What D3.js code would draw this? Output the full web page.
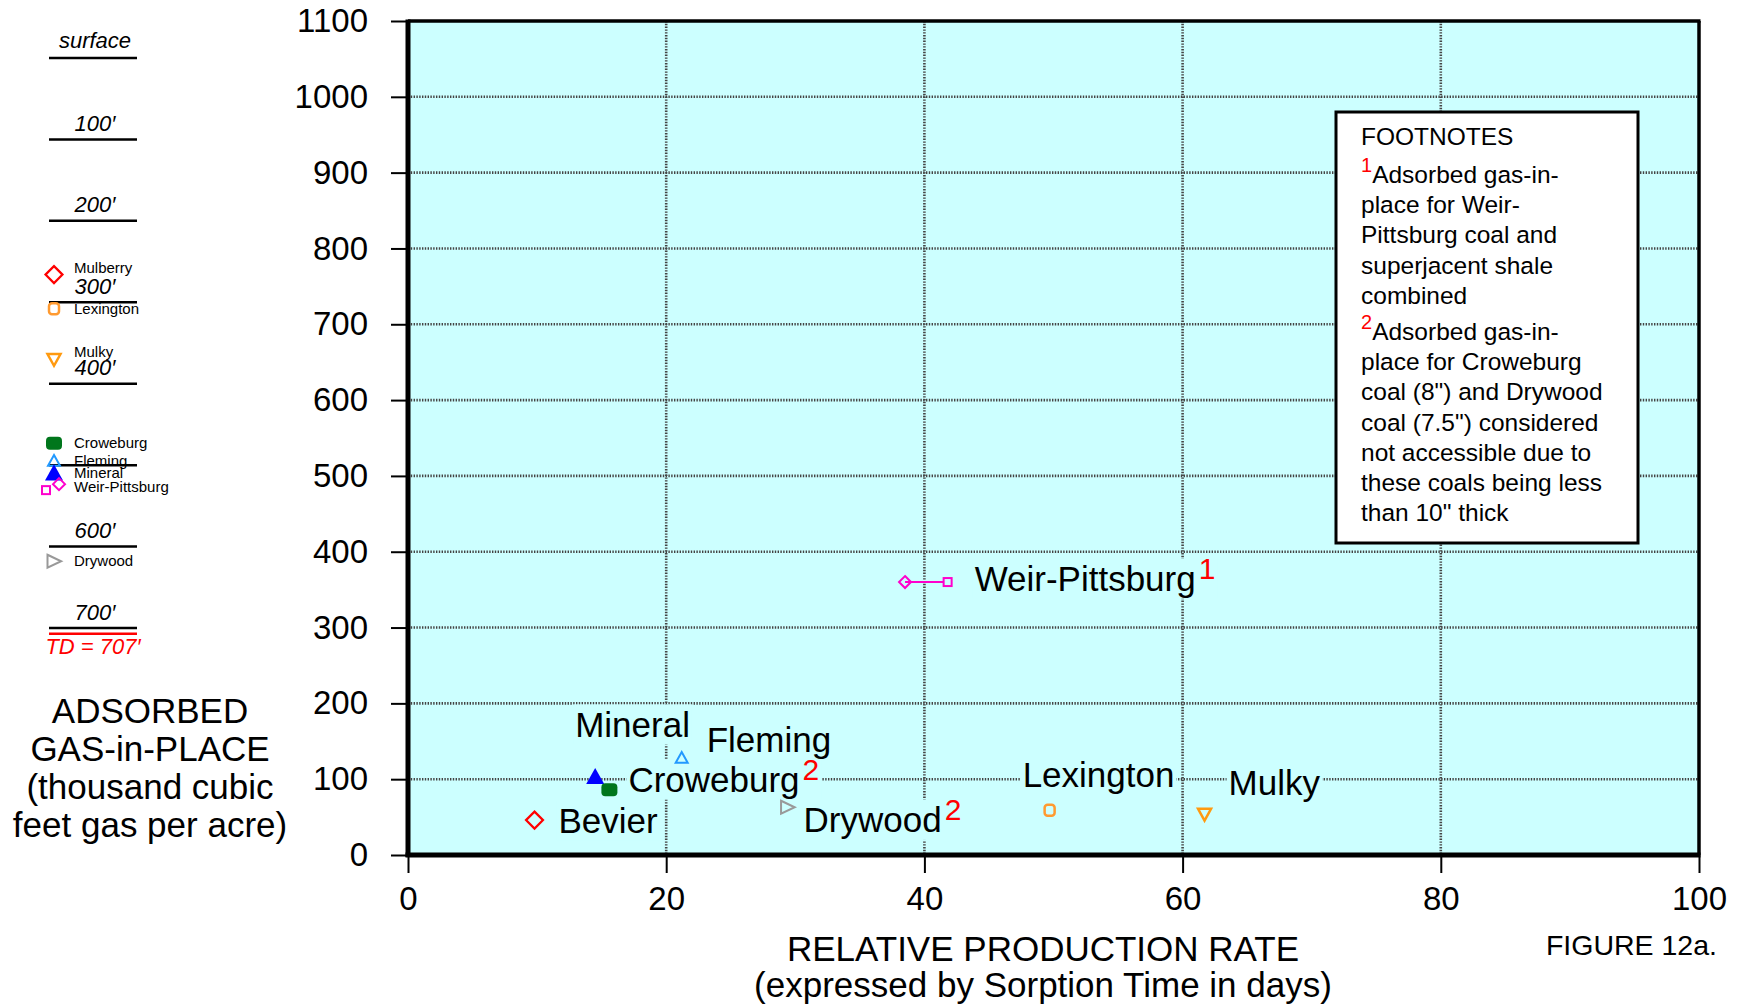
<!DOCTYPE html>
<html>
<head>
<meta charset="utf-8">
<script src="https://cdn.jsdelivr.net/npm/d3@7"></script>
<style>
  body { margin: 0; background: #fff; }
  svg { display: block; font-family: "Liberation Sans", Arial, Helvetica, sans-serif; }
</style>
</head>
<body>
<svg id="chart" width="1741" height="1008"></svg>
<script>
// Coal beds: sorption time (days) against adsorbed gas-in-place (thousand cf / acre)
const coals        = ["Bevier", "Mineral", "Croweburg", "Fleming", "Drywood", "Lexington", "Mulky", "Weir-Pittsburg"];
const sorptionDays = [9.8, 14.5, 15.6, 21.2, 29.4, 49.7, 61.7, 38.5];
const gasInPlace   = [46, 103, 86, 128, 63, 59, 54, 360];
const footnoteRef  = ["", "", "2", "", "2", "", "", "1"];

// Weir-Pittsburg is shown as a range (coal alone .. coal + superjacent shale)
const weirDaysRange = [38.5, 41.8];

// Axis ticks
const xTicks = [0, 20, 40, 60, 80, 100];
const yTicks = [0, 100, 200, 300, 400, 500, 600, 700, 800, 900, 1000, 1100];

// Well column: depth marks (ft) and coal depths (ft)
const depthMarks  = [0, 100, 200, 300, 400, 500, 600, 700];
const depthLabels = ["surface", "100\u2032", "200\u2032", "300\u2032", "400\u2032", "", "600\u2032", "700\u2032"];
const totalDepth  = 707;
const columnCoals = ["Mulberry", "Lexington", "Mulky", "Croweburg", "Fleming", "Mineral", "Weir-Pittsburg", "Drywood"];
const columnDepth = [266, 308, 370, 473, 495, 510, 527, 618];

// Footnote text
const footnoteTitle = "FOOTNOTES";
const footnote1 = ["Adsorbed gas-in-", "place for Weir-", "Pittsburg coal and", "superjacent shale", "combined"];
const footnote2 = ["Adsorbed gas-in-", "place for Croweburg", "coal (8\") and Drywood", "coal (7.5\") considered",
                   "not accessible due to", "these coals being less", "than 10\" thick"];

// ---------- styling ----------
const BG = "#ccffff";
const marker = {
  "Bevier":         { shape: "diamond",  r: 8.5, stroke: "#ff0000", fill: "none", sw: 2.2 },
  "Mulberry":       { shape: "diamond",  r: 8.5, stroke: "#ff0000", fill: "none", sw: 2.2 },
  "Mineral":        { shape: "triUp",    r: 9,   stroke: "none",    fill: "#0000ff", sw: 0 },
  "Croweburg":      { shape: "roundSq",  r: 7,   stroke: "none",    fill: "#00761c", sw: 0 },
  "Fleming":        { shape: "triUpS",   r: 6,   stroke: "#2299ff", fill: "none", sw: 2 },
  "Drywood":        { shape: "triRight", r: 6.5, stroke: "#999999", fill: "none", sw: 2 },
  "Lexington":      { shape: "roundO",   r: 5.5, stroke: "#ff9a30", fill: "none", sw: 2.5 },
  "Mulky":          { shape: "triDown",  r: 6.5, stroke: "#ff9a10", fill: "none", sw: 2.5 },
  "Weir-Pittsburg": { shape: "diamond",  r: 6,   stroke: "#ff00cc", fill: "none", sw: 2 }
};
// label placement relative to the marker (px)
const labelOffset = {
  "Bevier": [24, 13], "Mineral": [-20, -40], "Croweburg": [19, 2], "Fleming": [25, -6],
  "Drywood": [16, 25], "Lexington": [-27, -23], "Mulky": [24, -19], "Weir-Pittsburg": [27, 9]
};
// baseline shift of the column names relative to their symbol (px)
const columnTextShift = { "Mulberry": -2, "Mulky": -2 };

function shapePath(shape, r) {
  switch (shape) {
    case "diamond":  return `M0,${-r}L${r},0L0,${r}L${-r},0Z`;
    case "triUp":    return `M0,${-r}L${r},${r * 0.8}L${-r},${r * 0.8}Z`;
    case "triUpS":   return `M0,${-r}L${r},${r * 0.8}L${-r},${r * 0.8}Z`;
    case "triDown":  return `M${-r},${-r * 0.8}L${r},${-r * 0.8}L0,${r}Z`;
    case "triRight": return `M${-r},${-r}L${r * 1.1},0L${-r},${r}Z`;
    default: return null;
  }
}

function drawMarker(g, name, cx, cy) {
  const m = marker[name];
  if (m.shape === "roundSq") {
    g.append("rect").attr("x", cx - m.r - 1).attr("y", cy - m.r + 0.5)
      .attr("width", 2 * m.r + 2).attr("height", 2 * m.r - 1).attr("rx", 4)
      .attr("fill", m.fill);
  } else if (m.shape === "roundO") {
    g.append("rect").attr("x", cx - m.r + 0.5).attr("y", cy - m.r)
      .attr("width", 2 * m.r - 1).attr("height", 2 * m.r).attr("rx", 3)
      .attr("fill", "none").attr("stroke", m.stroke).attr("stroke-width", m.sw);
  } else {
    g.append("path").attr("d", shapePath(m.shape, m.r))
      .attr("transform", `translate(${cx},${cy})`)
      .attr("fill", m.fill).attr("stroke", m.stroke).attr("stroke-width", m.sw)
      .attr("stroke-linejoin", "miter");
  }
}

const svg = d3.select("#chart");

// ---------- main plot ----------
const plot = { left: 408, right: 1699, top: 21, bottom: 855 };
const x = d3.scaleLinear().domain([0, 100]).range([plot.left, plot.right]);
const y = d3.scaleLinear().domain([0, 1100]).range([plot.bottom, plot.top]);

svg.append("rect")
  .attr("x", plot.left).attr("y", plot.top)
  .attr("width", plot.right - plot.left).attr("height", plot.bottom - plot.top)
  .attr("fill", BG);

// dotted grid
const grid = svg.append("g").attr("stroke", "#444").attr("stroke-width", 2.6)
  .attr("stroke-dasharray", "1.4,1.4");
grid.selectAll("line.v").data(xTicks.filter(d => d > 0 && d < 100)).join("line")
  .attr("x1", d => x(d)).attr("x2", d => x(d)).attr("y1", plot.top).attr("y2", plot.bottom);
grid.selectAll("line.h").data(yTicks.filter(d => d > 0 && d < 1100)).join("line")
  .attr("y1", d => y(d)).attr("y2", d => y(d)).attr("x1", plot.left).attr("x2", plot.right);

// axes
const yAxis = svg.append("g").attr("transform", `translate(${plot.left},0)`)
  .call(d3.axisLeft(y).tickValues(yTicks).tickSize(17).tickPadding(23).tickFormat(d3.format("d")));
const xAxis = svg.append("g").attr("transform", `translate(0,${plot.bottom})`)
  .call(d3.axisBottom(x).tickValues(xTicks).tickSize(18).tickPadding(14).tickFormat(d3.format("d")));
[yAxis, xAxis].forEach(a => {
  a.select(".domain").remove();
  a.selectAll(".tick line").attr("stroke", "#000").attr("stroke-width", 2);
  a.selectAll(".tick text").attr("font-size", 33).attr("fill", "#000")
    .attr("font-family", "'Liberation Sans', Arial, sans-serif");
});

// frame
const frame = svg.append("g").attr("stroke", "#000");
frame.append("line").attr("x1", plot.left).attr("x2", plot.right + 1.5).attr("y1", plot.top).attr("y2", plot.top).attr("stroke-width", 3.5);
frame.append("line").attr("x1", plot.right).attr("x2", plot.right).attr("y1", plot.top).attr("y2", plot.bottom).attr("stroke-width", 3.5);
frame.append("line").attr("x1", plot.left).attr("x2", plot.left).attr("y1", plot.top - 1.5).attr("y2", plot.bottom + 2).attr("stroke-width", 5);
frame.append("line").attr("x1", plot.left - 2.5).attr("x2", plot.right + 1.5).attr("y1", plot.bottom).attr("y2", plot.bottom).attr("stroke-width", 5);

// data labels (background drawn first, so gridlines are masked)
const points = coals.map((c, i) => ({
  name: c, days: sorptionDays[i], gas: gasInPlace[i], note: footnoteRef[i]
}));
const labelBgLayer = svg.append("g");
const markLayer = svg.append("g");
const labelLayer = svg.append("g");
const LABEL_SIZE = 35;

points.forEach(p => {
  const px = x(p.name === "Weir-Pittsburg" ? weirDaysRange[1] : p.days);
  const py = y(p.gas);
  const [dx, dy] = labelOffset[p.name];
  const t = labelLayer.append("text")
    .attr("x", px + dx).attr("y", py + dy)
    .attr("font-size", LABEL_SIZE).attr("fill", "#000");
  t.append("tspan").text(p.name);
  if (p.note) {
    t.append("tspan").attr("dx", 3).attr("dy", -12).attr("font-size", 30)
      .attr("fill", "#ff0000").text(p.note);
  }
  // mask box spans the main text line; the superscript only widens it
  const bb = t.node().getBBox();
  const top = py + dy - LABEL_SIZE * 0.93;
  const bottom = py + dy + LABEL_SIZE * 0.22;
  labelBgLayer.append("rect")
    .attr("x", bb.x - 2).attr("y", top).attr("width", bb.width + 4).attr("height", bottom - top)
    .attr("fill", BG);
});

// markers
points.forEach(p => {
  if (p.name === "Weir-Pittsburg") {
    const yy = y(p.gas);
    markLayer.append("line")
      .attr("x1", x(weirDaysRange[0])).attr("x2", x(weirDaysRange[1]))
      .attr("y1", yy).attr("y2", yy).attr("stroke", "#ff00cc").attr("stroke-width", 2);
    drawMarker(markLayer, "Weir-Pittsburg", x(weirDaysRange[0]), yy);
    markLayer.append("rect")
      .attr("x", x(weirDaysRange[1]) - 4).attr("y", yy - 4).attr("width", 8).attr("height", 8)
      .attr("fill", BG).attr("stroke", "#ff00cc").attr("stroke-width", 2);
  } else {
    drawMarker(markLayer, p.name, x(p.days), y(p.gas));
  }
});

// footnotes box
const fn = svg.append("g");
fn.append("rect").attr("x", 1336).attr("y", 112).attr("width", 302).attr("height", 431)
  .attr("fill", "#fff").attr("stroke", "#000").attr("stroke-width", 3);
const fnX = 1361, fnFont = 24.5, fnStep = 30.2;
fn.append("text").attr("x", fnX).attr("y", 145).attr("font-size", fnFont).text(footnoteTitle);
function footBlock(mark, lines, y0) {
  lines.forEach((ln, i) => {
    const t = fn.append("text").attr("x", fnX).attr("y", y0 + i * fnStep).attr("font-size", fnFont);
    if (i === 0) {
      t.append("tspan").attr("fill", "#ff0000").attr("font-size", 20).attr("dy", -11).text(mark);
      t.append("tspan").attr("dy", 11).text(ln);
    } else {
      t.text(ln);
    }
  });
}
footBlock("1", footnote1, 183);
footBlock("2", footnote2, 340);

// axis titles
const titles = svg.append("g").attr("font-size", 35).attr("fill", "#000").attr("text-anchor", "middle");
titles.append("text").attr("x", 1043).attr("y", 961).text("RELATIVE PRODUCTION RATE");
titles.append("text").attr("x", 1043).attr("y", 997).text("(expressed by Sorption Time in days)");
["ADSORBED", "GAS-in-PLACE", "(thousand cubic", "feet gas per acre)"].forEach((s, i) => {
  titles.append("text").attr("x", 150).attr("y", 723 + i * 38).text(s);
});
svg.append("text").attr("x", 1717).attr("y", 955).attr("text-anchor", "end")
  .attr("font-size", 28.5).text("FIGURE 12a.");

// ---------- well column ----------
const depth = d3.scaleLinear().domain([0, 700]).range([58, 628]);
const col = svg.append("g");
col.selectAll("line.depth").data(depthMarks).join("line")
  .attr("x1", 49).attr("x2", 137)
  .attr("y1", d => depth(d)).attr("y2", d => depth(d))
  .attr("stroke", "#000").attr("stroke-width", 2.5);
col.selectAll("text.depth").data(depthMarks).join("text")
  .attr("x", 95).attr("y", (d, i) => depth(d) - (i === 0 ? 10 : 8.5))
  .attr("text-anchor", "middle").attr("font-style", "italic").attr("font-size", 22)
  .text((d, i) => depthLabels[i]);
// total depth
col.append("line").attr("x1", 49).attr("x2", 137)
  .attr("y1", depth(totalDepth)).attr("y2", depth(totalDepth))
  .attr("stroke", "#ff0000").attr("stroke-width", 2.5);
col.append("text").attr("x", 93).attr("y", depth(totalDepth) + 20)
  .attr("text-anchor", "middle").attr("font-style", "italic").attr("font-size", 22)
  .attr("fill", "#ff0000").text(`TD = ${totalDepth}\u2032`);

// coal symbols in the column
columnCoals.forEach((c, i) => {
  const cy = depth(columnDepth[i]);
  if (c === "Weir-Pittsburg") {
    col.append("rect").attr("x", 42).attr("y", cy - 1).attr("width", 8).attr("height", 8)
      .attr("fill", "none").attr("stroke", "#ff00cc").attr("stroke-width", 2);
    drawMarker(col, c, 59, cy - 3);
  } else {
    drawMarker(col, c, 54, cy);
  }
  col.append("text").attr("x", 74).attr("y", cy + (columnTextShift[c] ?? 5))
    .attr("font-size", 15).text(c);
});
</script>
</body>
</html>
